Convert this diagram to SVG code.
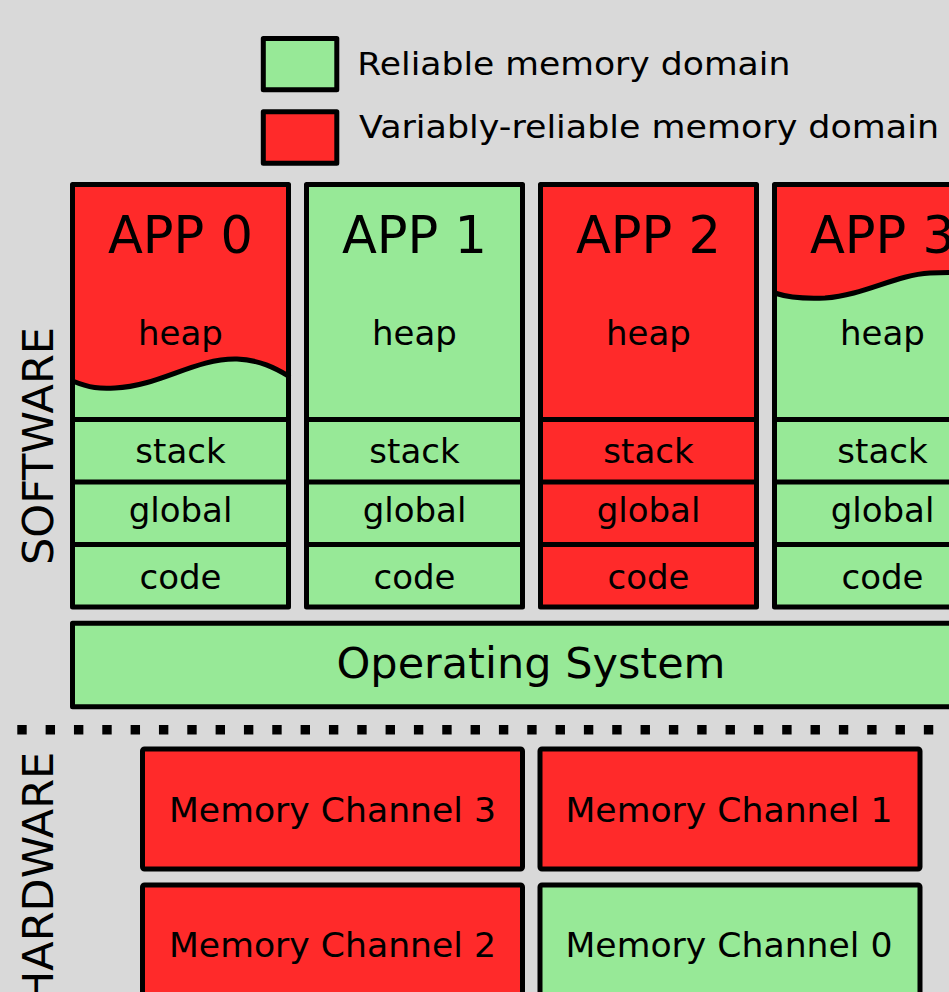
<svg xmlns="http://www.w3.org/2000/svg" width="949" height="992" viewBox="0 0 949 992">
<style>
text{font-family:"DejaVu Sans","Liberation Sans",sans-serif;fill:#000}
.g{fill:#97e997}
.r{fill:#ff2a2a}
.bx{fill:none;stroke:#000;stroke-width:5;stroke-linejoin:round}
.ln{stroke:#000;stroke-width:5}
.wave{fill:none;stroke:#000;stroke-width:5;stroke-linecap:round}
.app{font-size:51px;text-anchor:middle}
.seg{font-size:34px;text-anchor:middle}
.mc{font-size:34px;text-anchor:middle}
.leg{font-size:32px}
.side{font-size:43px}
</style>
<rect width="949" height="992" fill="#d9d9d9"/>

<g id="legend">
<rect x="263.3" y="38.5" width="73.5" height="51.3" class="g"/>
<rect x="263.3" y="38.5" width="73.5" height="51.3" class="bx"/>
<text x="357.3" y="75" class="leg" textLength="433" lengthAdjust="spacingAndGlyphs">Reliable memory domain</text>
<rect x="263.3" y="111.8" width="73.5" height="51.4" class="r"/>
<rect x="263.3" y="111.8" width="73.5" height="51.4" class="bx"/>
<text x="359" y="138.3" class="leg" textLength="580" lengthAdjust="spacingAndGlyphs">Variably-reliable memory domain</text>
</g>

<g id="software-label">
<text class="side" text-anchor="middle" transform="translate(53.3,446) rotate(-90)">SOFTWARE</text>
</g>
<g id="hardware-label">
<text class="side" text-anchor="end" transform="translate(52.7,751.7) rotate(-90)">HARDWARE</text>
</g>

<g id="app0">
<rect x="72.5" y="184.5" width="216" height="235" class="r"/>
<path d="M72.5,381 C90,388 100,389 115,388 C160,386 195,358 237,359 C260,360 275,368 288.5,376 L288.5,419.5 L72.5,419.5 Z" class="g"/>
<path d="M72.5,381 C90,388 100,389 115,388 C160,386 195,358 237,359 C260,360 275,368 288.5,376" class="wave"/>
<rect x="72.5" y="419.5" width="216" height="187.5" class="g"/>
<line x1="72.5" y1="419.5" x2="288.5" y2="419.5" class="ln"/>
<line x1="72.5" y1="482" x2="288.5" y2="482" class="ln"/>
<line x1="72.5" y1="544.5" x2="288.5" y2="544.5" class="ln"/>
<rect x="72.5" y="184.5" width="216" height="422.5" class="bx"/>
<text x="180.5" y="253" class="app">APP 0</text>
<text x="180.5" y="345" class="seg">heap</text>
<text x="180.5" y="463" class="seg">stack</text>
<text x="180.5" y="522" class="seg">global</text>
<text x="180.5" y="588.5" class="seg">code</text>
</g>

<g id="app1">
<rect x="306.5" y="184.5" width="216" height="422.5" class="g"/>
<line x1="306.5" y1="419.5" x2="522.5" y2="419.5" class="ln"/>
<line x1="306.5" y1="482" x2="522.5" y2="482" class="ln"/>
<line x1="306.5" y1="544.5" x2="522.5" y2="544.5" class="ln"/>
<rect x="306.5" y="184.5" width="216" height="422.5" class="bx"/>
<text x="414.5" y="253" class="app">APP 1</text>
<text x="414.5" y="345" class="seg">heap</text>
<text x="414.5" y="463" class="seg">stack</text>
<text x="414.5" y="522" class="seg">global</text>
<text x="414.5" y="588.5" class="seg">code</text>
</g>

<g id="app2">
<rect x="540.5" y="184.5" width="216" height="422.5" class="r"/>
<line x1="540.5" y1="419.5" x2="756.5" y2="419.5" class="ln"/>
<line x1="540.5" y1="482" x2="756.5" y2="482" class="ln"/>
<line x1="540.5" y1="544.5" x2="756.5" y2="544.5" class="ln"/>
<rect x="540.5" y="184.5" width="216" height="422.5" class="bx"/>
<text x="648.5" y="253" class="app">APP 2</text>
<text x="648.5" y="345" class="seg">heap</text>
<text x="648.5" y="463" class="seg">stack</text>
<text x="648.5" y="522" class="seg">global</text>
<text x="648.5" y="588.5" class="seg">code</text>
</g>

<g id="app3">
<rect x="774.5" y="184.5" width="216" height="422.5" class="g"/>
<path d="M774.5,184.5 L774.5,293 C790,298 805,299 825,298 C865,295 895,275 930,273 C945,272.5 960,272 990.5,272 L990.5,184.5 Z" class="r"/>
<path d="M774.5,293 C790,298 805,299 825,298 C865,295 895,275 930,273 C945,272.5 960,272 990.5,272" class="wave"/>
<line x1="774.5" y1="419.5" x2="990.5" y2="419.5" class="ln"/>
<line x1="774.5" y1="482" x2="990.5" y2="482" class="ln"/>
<line x1="774.5" y1="544.5" x2="990.5" y2="544.5" class="ln"/>
<rect x="774.5" y="184.5" width="216" height="422.5" class="bx"/>
<text x="882.5" y="253" class="app">APP 3</text>
<text x="882.5" y="345" class="seg">heap</text>
<text x="882.5" y="463" class="seg">stack</text>
<text x="882.5" y="522" class="seg">global</text>
<text x="882.5" y="588.5" class="seg">code</text>
</g>

<g id="os">
<rect x="72.5" y="623.2" width="930" height="83.6" class="g"/>
<rect x="72.5" y="623.2" width="930" height="83.6" class="bx"/>
<text x="531" y="678" font-size="43" text-anchor="middle">Operating System</text>
</g>

<g id="connectors">
<line x1="17.3" y1="729.8" x2="935" y2="729.8" stroke="#000" stroke-width="9.4" stroke-dasharray="9.4 18.93"/>
</g>

<g id="channel3">
<rect x="142.5" y="749" width="380" height="120" rx="2" class="r"/>
<rect x="142.5" y="749" width="380" height="120" rx="2" class="bx"/>
<text x="332.5" y="821.7" class="mc" textLength="327" lengthAdjust="spacingAndGlyphs">Memory Channel 3</text>
</g>
<g id="channel1">
<rect x="540" y="749" width="380" height="120" rx="2" class="r"/>
<rect x="540" y="749" width="380" height="120" rx="2" class="bx"/>
<text x="729" y="821.7" class="mc" textLength="327" lengthAdjust="spacingAndGlyphs">Memory Channel 1</text>
</g>
<g id="channel2">
<rect x="142.5" y="885" width="380" height="120" rx="2" class="r"/>
<rect x="142.5" y="885" width="380" height="120" rx="2" class="bx"/>
<text x="332.5" y="957.3" class="mc" textLength="327" lengthAdjust="spacingAndGlyphs">Memory Channel 2</text>
</g>
<g id="channel0">
<rect x="540" y="885" width="380" height="120" rx="2" class="g"/>
<rect x="540" y="885" width="380" height="120" rx="2" class="bx"/>
<text x="729" y="957" class="mc" textLength="327" lengthAdjust="spacingAndGlyphs">Memory Channel 0</text>
</g>
</svg>
